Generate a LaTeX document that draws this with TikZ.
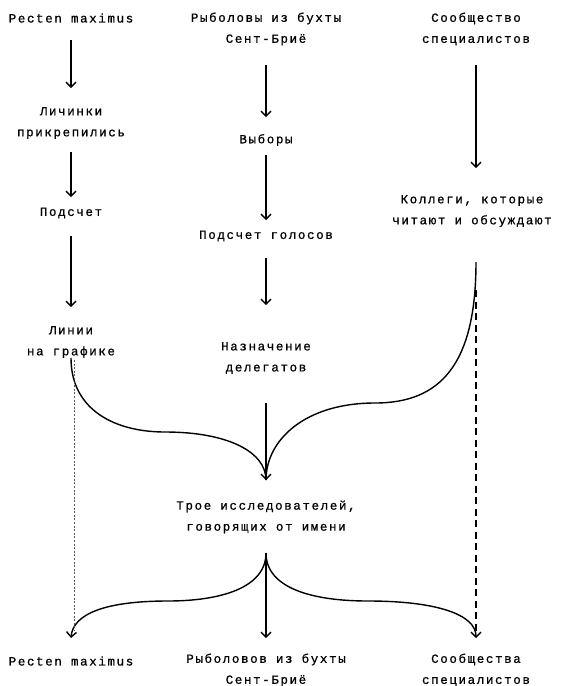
\documentclass[tikz,border=0pt]{standalone}
\usepackage{fontspec}
\newfontfamily\tw[LetterSpace=13,FakeBold=0.8]{Liberation Mono}
\usetikzlibrary{arrows.meta}
\begin{document}
\begin{tikzpicture}[x=1pt,y=-1pt,
  lbl/.style={align=center,inner sep=0pt,font=\tw\fontsize{12.5}{21}\selectfont},
  ln/.style={line width=1.4pt},
  arr/.style={ln,-{Straight Barb[length=5pt,width=10pt,line width=1.4pt]}},
  dotln/.style={line width=0.6pt,gray!70!black,dash pattern=on 2pt off 1.6pt},
  dashln/.style={line width=1.3pt,dash pattern=on 7pt off 4.5pt}]
\useasboundingbox (0,0) rectangle (561,686);
% nodes
\node[lbl] (P1) at (71,18) {Pecten maximus};
\node[lbl] (L2) at (71,123) {Личинки\\прикрепились};
\node[lbl] (L3) at (71,213) {Подсчет};
\node[lbl] (L4) at (71,342) {Линии\\на графике};
\node[lbl] (M1) at (266,29) {Рыболовы из бухты\\Сент-Бриё};
\node[lbl] (M2) at (266,140) {Выборы};
\node[lbl] (M3) at (266,236) {Подсчет голосов};
\node[lbl] (M4) at (266,358) {Назначение\\делегатов};
\node[lbl] (M5) at (266,517) {Трое исследователей,\\говорящих от имени};
\node[lbl] (R1) at (476,29) {Сообщество\\специалистов};
\node[lbl] (R2) at (472,211) {Коллеги, которые\\читают и обсуждают};
\node[lbl] (B1) at (71,661) {Pecten maximus};
\node[lbl] (B2) at (266,670) {Рыболовов из бухты\\Сент-Бриё};
\node[lbl] (B3) at (476,670) {Сообщества\\специалистов};
\coordinate (rs) at (R2.center -| R1.center);
\coordinate (J) at (266,480);
% left column
\draw[arr,shorten <=22pt,shorten >=35pt] (P1.center) -- (L2.center);
\draw[arr,shorten <=29pt,shorten >=16pt] (L2.center) -- (L3.center);
\draw[arr,shorten <=23pt,shorten >=35pt] (L3.center) -- (L4.center);
% middle column
\draw[arr,shorten <=36pt,shorten >=23pt] (M1.center) -- (M2.center);
\draw[arr,shorten <=15pt,shorten >=16pt] (M2.center) -- (M3.center);
\draw[arr,shorten <=22pt,shorten >=53pt] (M3.center) -- (M4.center);
\draw[arr,shorten <=45pt,shorten >=37pt] (M4.center) -- (M5.center);
\draw[arr,shorten <=36pt,shorten >=32pt] (M5.center) -- (B2.center);
% right column
\draw[arr,shorten <=36pt,shorten >=43pt] (R1.center) -- (rs);
% converging curves
\draw[ln] ([yshift=-16pt]L4.center) .. controls (71,410) and (115,432) .. (165,432)
  .. controls (228,432) and (266,452) .. (J);
\draw[ln] ([yshift=-51pt]rs) .. controls (476,365) and (440,403) .. (375,403)
  .. controls (305,403) and (266,440) .. (J);
% diverging curves
\draw[arr] ([yshift=-36pt]M5.center) .. controls (266,588) and (220,601) .. (168,601)
  .. controls (105,601) and (73,614) .. ([yshift=23pt]B1.center);
\draw[arr] ([yshift=-36pt]M5.center) .. controls (266,588) and (312,601) .. (368,601)
  .. controls (435,601) and (476,614) .. ([yshift=32pt]B3.center);
% dotted / dashed
\draw[dotln,shorten <=18pt,shorten >=30pt] ([xshift=3pt]L4.center) -- ([xshift=3pt]B1.center);
\draw[dashln,shorten <=79pt,shorten >=35pt] (rs) -- (B3.center);
\end{tikzpicture}
\end{document}
